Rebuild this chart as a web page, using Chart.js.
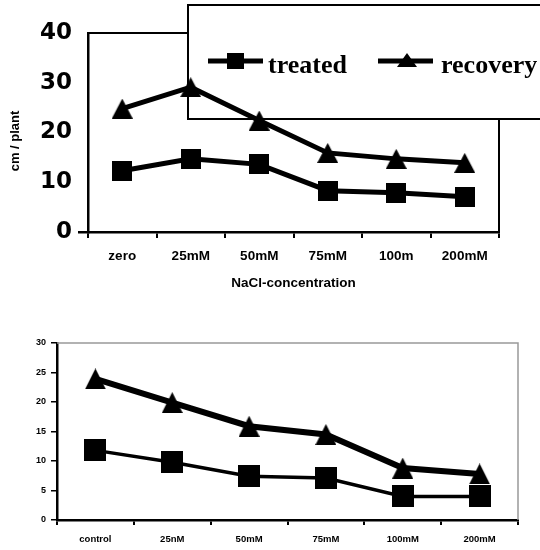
<!DOCTYPE html>
<html>
<head>
<meta charset="utf-8">
<script src="https://cdn.jsdelivr.net/npm/chart.js@4/dist/chart.umd.min.js"></script>
<style>
  html, body { margin: 0; padding: 0; background: #fff; }
  #wrap { position: relative; width: 540px; height: 550px; overflow: hidden; }
  .box { position: absolute; left: 0; width: 540px; }
</style>
</head>
<body>
<div id="wrap">
  <div class="box" style="top:0;height:300px"><canvas id="c1" width="540" height="300"></canvas></div>
  <div class="box" style="top:300px;height:250px"><canvas id="c2" width="540" height="250"></canvas></div>
</div>
<script>
// ---- data: top chart ----
const topCategories = ['zero', '25mM', '50mM', '75mM', '100m', '200mM'];
const topTreated = [12.3, 14.7, 13.6, 8.3, 7.9, 7.1];
const topRecovery = [24.8, 29.1, 22.4, 15.9, 14.7, 13.9];
const topYTicks = [0, 10, 20, 30, 40];
const topXTitle = 'NaCl-concentration';
const topYTitle = 'cm / plant';
const legendLabels = ['treated', 'recovery'];

// ---- data: bottom chart ----
const botCategories = ['control', '25nM', '50mM', '75mM', '100mM', '200mM'];
const botTreated = [11.8, 9.8, 7.4, 7.1, 4.0, 4.0];
const botRecovery = [23.9, 19.9, 15.9, 14.5, 8.8, 7.8];
const botYTicks = [0, 5, 10, 15, 20, 25, 30];

Chart.defaults.font.family = "'Liberation Sans', Arial, sans-serif";
Chart.defaults.color = '#000';

function squareImg(s) {
  const c = document.createElement('canvas');
  c.width = s; c.height = s;
  const g = c.getContext('2d');
  g.fillStyle = '#000';
  g.fillRect(0, 0, s, s);
  return c;
}
function triImg(w, h) {
  const c = document.createElement('canvas');
  c.width = w; c.height = h;
  const g = c.getContext('2d');
  g.fillStyle = '#000';
  g.beginPath();
  g.moveTo(w / 2, 0);
  g.lineTo(w, h);
  g.lineTo(0, h);
  g.closePath();
  g.fill();
  return c;
}

// ---- top chart ----
const topFrame = {
  id: 'topFrame',
  beforeDatasetsDraw(chart) {
    const ctx = chart.ctx, a = chart.chartArea;
    ctx.save();
    ctx.strokeStyle = '#000';
    ctx.lineWidth = 2;
    ctx.beginPath();
    ctx.moveTo(a.left, a.top);
    ctx.lineTo(a.right, a.top);
    ctx.lineTo(a.right, a.bottom);
    ctx.stroke();
    // y-axis title
    ctx.save();
    ctx.translate(15, 141);
    ctx.rotate(-Math.PI / 2);
    ctx.font = "bold 13px 'Liberation Sans', Arial, sans-serif";
    ctx.textAlign = 'center';
    ctx.textBaseline = 'middle';
    ctx.fillStyle = '#000';
    ctx.fillText(topYTitle, 0, 0);
    ctx.restore();
    // legend box
    const bx = 188, by = 5, bw = 360, bh = 114;
    ctx.fillStyle = '#fff';
    ctx.fillRect(bx, by, bw, bh);
    ctx.lineWidth = 2;
    ctx.strokeRect(bx, by, bw, bh);
    // legend entries
    const ly = 61;
    ctx.lineWidth = 5;
    ctx.beginPath();
    ctx.moveTo(208, ly); ctx.lineTo(263, ly);
    ctx.moveTo(378, ly); ctx.lineTo(433, ly);
    ctx.stroke();
    ctx.fillStyle = '#000';
    ctx.fillRect(235 - 8, ly - 8, 17, 16);
    ctx.beginPath();
    ctx.moveTo(407, ly - 8);
    ctx.lineTo(417, ly + 6);
    ctx.lineTo(397, ly + 6);
    ctx.closePath();
    ctx.fill();
    ctx.font = "bold 26px 'Liberation Serif', 'Times New Roman', serif";
    ctx.textBaseline = 'alphabetic';
    ctx.textAlign = 'left';
    ctx.fillText(legendLabels[0], 268, 73);
    ctx.fillText(legendLabels[1], 441, 73);
    ctx.restore();
  }
};

new Chart(document.getElementById('c1'), {
  type: 'line',
  data: {
    labels: topCategories,
    datasets: [
      { label: legendLabels[0], data: topTreated, borderColor: '#000', borderWidth: 5,
        pointStyle: squareImg(20), pointRadius: 10, tension: 0 },
      { label: legendLabels[1], data: topRecovery, borderColor: '#000', borderWidth: 5,
        pointStyle: triImg(21, 20), pointRadius: 10, tension: 0 }
    ]
  },
  options: {
    responsive: false,
    animation: false,
    events: [],
    layout: { padding: { top: 33, right: 41, left: 0, bottom: 0 } },
    plugins: { legend: { display: false }, tooltip: { enabled: false } },
    scales: {
      x: {
        offset: true,
        grid: { offset: true, drawOnChartArea: false, tickLength: 6, color: '#000', lineWidth: 2 },
        border: { color: '#000', width: 2.5 },
        ticks: { font: { size: 13.5, weight: 'bold' }, padding: 10, color: '#000', maxRotation: 0 },
        title: { display: true, text: topXTitle, font: { size: 13.5, weight: 'bold' }, padding: { top: 0, bottom: 9 }, color: '#000' },
        afterFit(s) { s.height = 68; }
      },
      y: {
        min: 0, max: 40,
        afterBuildTicks(s) { s.ticks = topYTicks.map(v => ({ value: v })); },
        grid: {
          drawOnChartArea: false, tickLength: 10, lineWidth: 2.5,
          color: c => (c.tick && c.tick.value === 0) ? '#000' : 'rgba(0,0,0,0)'
        },
        border: { color: '#000', width: 2.5 },
        ticks: { font: { family: "'DejaVu Sans', sans-serif", size: 23, weight: 'bold' }, padding: 6, color: '#000' },
        afterFit(s) { s.width = 88; }
      }
    }
  },
  plugins: [topFrame]
});

// ---- bottom chart ----
const botFrame = {
  id: 'botFrame',
  beforeDatasetsDraw(chart) {
    const ctx = chart.ctx, a = chart.chartArea;
    ctx.save();
    ctx.strokeStyle = '#999';
    ctx.lineWidth = 1.5;
    ctx.beginPath();
    ctx.moveTo(a.left, a.top);
    ctx.lineTo(a.right, a.top);
    ctx.lineTo(a.right, a.bottom);
    ctx.stroke();
    ctx.restore();
  }
};

new Chart(document.getElementById('c2'), {
  type: 'line',
  data: {
    labels: botCategories,
    datasets: [
      { label: 'treated', data: botTreated, borderColor: '#000', borderWidth: 3.5,
        pointStyle: squareImg(22), pointRadius: 10, tension: 0 },
      { label: 'recovery', data: botRecovery, borderColor: '#000', borderWidth: 6,
        pointStyle: triImg(21, 21), pointRadius: 10, tension: 0 }
    ]
  },
  options: {
    responsive: false,
    animation: false,
    events: [],
    layout: { padding: { top: 43, right: 22, left: 0, bottom: 0 } },
    plugins: { legend: { display: false }, tooltip: { enabled: false } },
    scales: {
      x: {
        offset: true,
        grid: { offset: true, drawOnChartArea: false, tickLength: 5, color: '#000', lineWidth: 2 },
        border: { color: '#000', width: 2.5 },
        ticks: { font: { size: 9.5, weight: 'bold' }, padding: 9, color: '#000', maxRotation: 0 },
        afterFit(s) { s.height = 30; }
      },
      y: {
        min: 0, max: 30,
        afterBuildTicks(s) { s.ticks = botYTicks.map(v => ({ value: v })); },
        grid: { drawOnChartArea: false, tickLength: 6, lineWidth: 1.5, color: '#000' },
        border: { color: '#000', width: 2.5 },
        ticks: { font: { size: 9, weight: 'bold' }, padding: 5, color: '#000' },
        afterFit(s) { s.width = 57; }
      }
    }
  },
  plugins: [botFrame]
});
</script>
</body>
</html>
